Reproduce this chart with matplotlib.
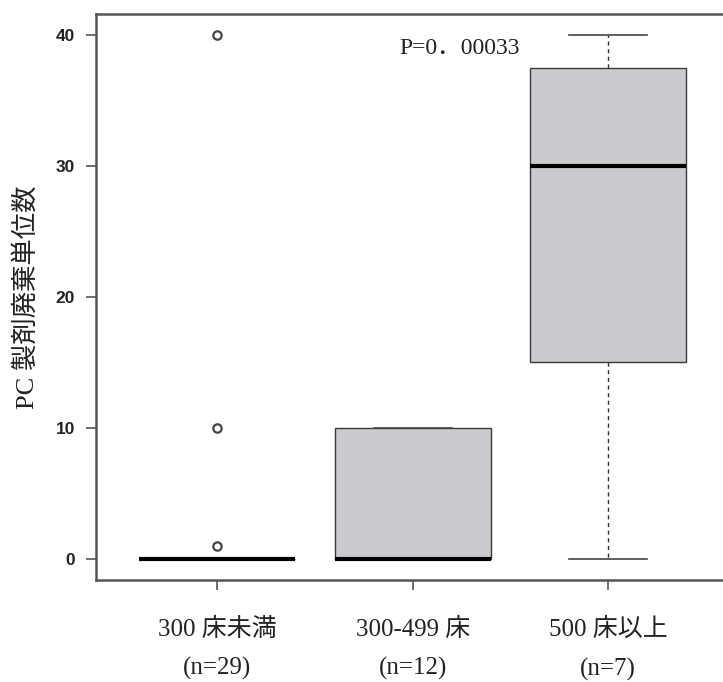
import matplotlib
matplotlib.use("Agg")
import matplotlib.pyplot as plt

# group labels and box summary stats
groups = ["300 床未満", "300-499 床", "500 床以上"]
counts = [29, 12, 7]
q1 = [0, 0, 15]
medians = [0, 0, 30]
q3 = [0, 10, 37.5]
whisk_lo = [0, 0, 0]
whisk_hi = [0, 10, 40]
outliers = [[40, 10, 1], [], []]
p_text = "P=0．00033"

serif_jp = ["Liberation Serif", "Noto Sans CJK JP"]


def main():
    stats = []
    for i in range(len(groups)):
        stats.append({
            "med": medians[i], "q1": q1[i], "q3": q3[i],
            "whislo": whisk_lo[i], "whishi": whisk_hi[i],
            "fliers": outliers[i], "label": groups[i],
        })

    fig = plt.figure(figsize=(7.23, 6.82), dpi=100)
    ax = fig.add_axes([0.1328, 0.1496, 0.8762, 0.8299])

    ax.bxp(stats, positions=[1, 2, 3], widths=0.8, patch_artist=True,
           boxprops=dict(facecolor="#c9cbce", edgecolor="#3a3a3a", linewidth=1.0),
           medianprops=dict(color="black", linewidth=3.0),
           whiskerprops=dict(color="#333333", linewidth=1.0, linestyle=(0, (3, 2.5))),
           capprops=dict(color="#444444", linewidth=1.2),
           capwidths=0.4,
           flierprops=dict(marker="o", markersize=6, markerfacecolor="none",
                           markeredgecolor="#444444", markeredgewidth=1.6))

    ax.set_xlim(0.38, 3.62)
    ax.set_ylim(-1.6, 41.6)

    ax.set_yticks([0, 10, 20, 30, 40])
    ax.set_yticklabels(["0", "10", "20", "30", "40"], family="Liberation Sans",
                       fontweight="bold", fontsize=12.5, color="#222222")
    ax.tick_params(axis="y", length=7, width=1.2, color="#555555", pad=8)

    ax.set_xticks([1, 2, 3])
    ax.set_xticklabels([g + "\n(n=%d)" % n for g, n in zip(groups, counts)],
                       family=serif_jp, fontsize=18, color="#222222", linespacing=1.95)
    ax.tick_params(axis="x", length=7, width=1.2, color="#555555", pad=20)

    ax.set_ylabel("PC 製剤廃棄単位数", family=serif_jp, fontsize=19,
                  color="#222222", labelpad=12)

    for side in ["left", "bottom", "top", "right"]:
        ax.spines[side].set_color("#555555")
        ax.spines[side].set_linewidth(1.8)

    ax.text(1.93, 39.0, p_text, family=serif_jp, fontsize=17,
            color="#222222", va="center", ha="left")

    fig.savefig("out.png", dpi=100)


if __name__ == '__main__':
    main()
